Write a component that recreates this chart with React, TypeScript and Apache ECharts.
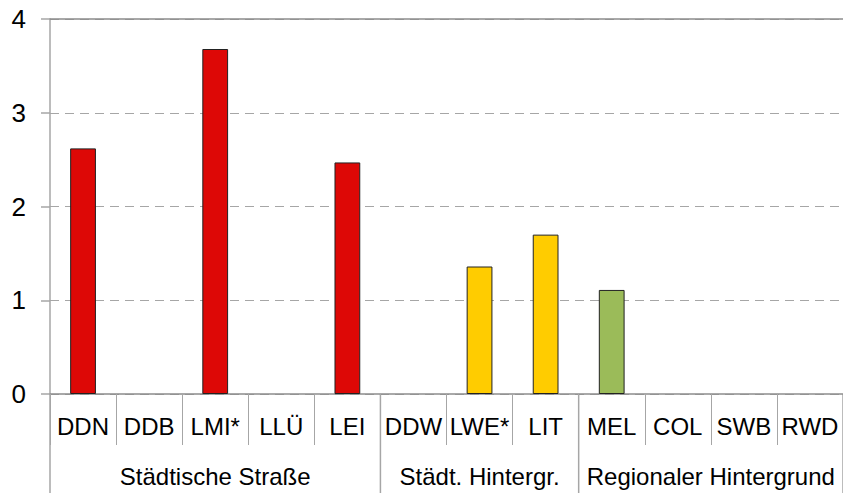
import React, { useEffect, useRef } from "react";
import * as echarts from "echarts";

const categories = ["DDN", "DDB", "LMI*", "LLÜ", "LEI", "DDW", "LWE*", "LIT", "MEL", "COL", "SWB", "RWD"];
const values: (number | null)[] = [2.62, null, 3.68, null, 2.47, null, 1.36, 1.7, 1.11, null, null, null];
const groupNames = ["Städtische Straße", "Städt. Hintergr.", "Regionaler Hintergrund"];
const groupSizes = [5, 3, 4];
const groupColors = ["#DD0806", "#FFCC00", "#9BBB59"];
const yTicks = [0, 1, 2, 3, 4];

const FONT = "Liberation Sans, Arial, sans-serif";

export default function App() {
  const ref = useRef<HTMLDivElement>(null);
  useEffect(() => {
    if (!ref.current) return;
    const chart = echarts.init(ref.current, undefined, { renderer: "svg" });
    const groupOf: number[] = [];
    groupSizes.forEach((n, g) => {
      for (let i = 0; i < n; i++) groupOf.push(g);
    });
    const option: any = {
      animation: false,
      backgroundColor: "#ffffff",
      grid: { left: 50, top: 19, width: 796, height: 375 },
      xAxis: [
        {
          type: "category",
          data: categories,
          position: "bottom",
          axisLine: { show: true, lineStyle: { color: "#8c8c8c", width: 1.5 } },
          axisTick: { show: true, interval: 0, length: 51, lineStyle: { color: "#a6a6a6", width: 1 } },
          axisLabel: { interval: 0, margin: 20, fontSize: 24, color: "#000", fontFamily: FONT },
          splitLine: { show: false },
        },
        {
          type: "category",
          data: categories,
          position: "top",
          axisLine: { show: true, lineStyle: { color: "#8c8c8c", width: 1.5 } },
          axisTick: { show: false },
          axisLabel: { show: false },
        },
      ],
      yAxis: {
        type: "value",
        min: yTicks[0],
        max: yTicks[yTicks.length - 1],
        interval: 1,
        axisLine: { show: true, lineStyle: { color: "#a6a6a6", width: 1.5 } },
        axisTick: { show: true, length: 9, lineStyle: { color: "#a6a6a6", width: 1.5 } },
        axisLabel: { margin: 24, fontSize: 26, color: "#000", fontFamily: FONT },
        splitLine: { show: true, lineStyle: { color: "#a6a6a6", type: [9, 6], width: 1.2 } },
      },
      series: [
        {
          type: "bar",
          barWidth: "39%",
          data: values.map((v, i) => ({
            value: v,
            itemStyle: { color: groupColors[groupOf[i]], borderColor: "#222", borderWidth: 1 },
          })),
        },
      ],
    };
    chart.setOption(option);

    const c0 = chart.convertToPixel({ xAxisIndex: 0 }, categories[0]) as number;
    const c1 = chart.convertToPixel({ xAxisIndex: 0 }, categories[1]) as number;
    const band = c1 - c0;
    const yZero = chart.convertToPixel({ yAxisIndex: 0 }, 0) as number;
    const bottom = 493;
    const graphics: any[] = [];
    const leftEdge = c0 - band / 2;
    graphics.push({
      type: "line",
      shape: { x1: leftEdge, y1: yZero, x2: leftEdge, y2: bottom },
      style: { stroke: "#a6a6a6", lineWidth: 1.5 },
    });
    let start = 0;
    groupSizes.forEach((n, g) => {
      const x0 = c0 - band / 2 + start * band;
      const x1 = x0 + n * band;
      graphics.push({
        type: "line",
        shape: { x1: x1, y1: yZero, x2: x1, y2: bottom },
        style: { stroke: "#a6a6a6", lineWidth: 1.5 },
      });
      graphics.push({
        type: "text",
        x: (x0 + x1) / 2,
        y: 476,
        style: {
          text: groupNames[g],
          fontSize: 24,
          fontFamily: FONT,
          fill: "#000",
          align: "center",
          verticalAlign: "middle",
        },
      });
      start += n;
    });
    chart.setOption({ graphic: graphics });
    return () => chart.dispose();
  }, []);
  return <div ref={ref} style={{ width: 843, height: 493, position: "fixed", left: 0, top: 0 }} />;
}
